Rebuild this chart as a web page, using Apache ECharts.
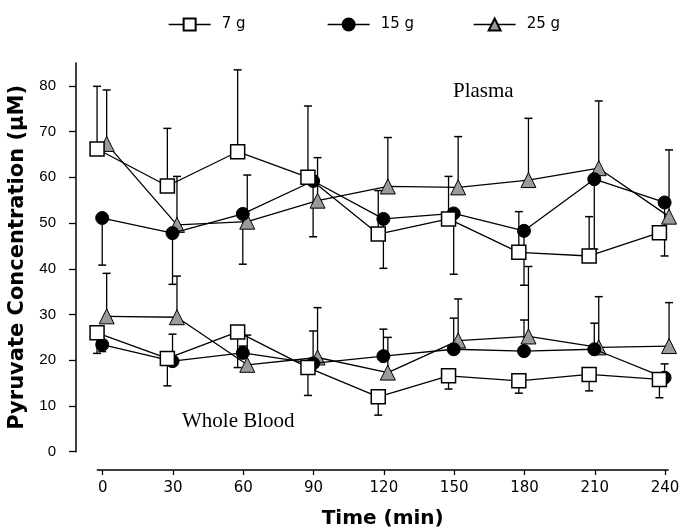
<!DOCTYPE html>
<html>
<head>
<meta charset="utf-8">
<script src="https://cdn.jsdelivr.net/npm/echarts@6/dist/echarts.min.js"></script>
<style>
html,body{margin:0;padding:0;background:#fff;}
#chart{width:680px;height:529px;}
</style>
</head>
<body>
<div id="chart"></div>
<script>
// ---- data ----
const times = [0, 30, 60, 90, 120, 150, 180, 210, 240];
const xTickLabels = [0, 30, 60, 90, 120, 150, 180, 210, 240];
const yTickLabels = [0, 10, 20, 30, 40, 50, 60, 70, 80];
const doses = ['7 g', '15 g', '25 g'];

// Plasma (mean, signed SD: + drawn upward, - drawn downward)
const plasma7 = [66.2, 58.1, 65.6, 60.0, 47.6, 50.9, 43.6, 42.8, 47.9];
const plasma7Err = [13.7, 12.6, 17.9, 15.6, 9.5, 9.3, 8.9, 8.6, 1.5];
const plasma15 = [51.1, 47.8, 52.0, 59.2, 50.9, 52.1, 48.3, 59.6, 54.5];
const plasma15Err = [-10.3, -11.2, -11.0, -12.2, -10.8, -13.3, -11.9, -15.3, -11.7];
const plasma25 = [67.3, 49.6, 50.3, 54.9, 58.0, 57.8, 59.4, 62.0, 51.4];
const plasma25Err = [11.8, 10.6, 10.2, 9.4, 10.7, 11.1, 13.5, 14.7, 14.6];

// Whole blood
const blood7 = [26.0, 20.4, 26.2, 18.4, 12.0, 16.6, 15.5, 16.9, 15.8];
const blood7Err = [-4.5, -6.0, -7.8, -6.1, -4.0, -2.9, -2.7, -3.6, -4.0];
const blood15 = [23.4, 19.8, 21.6, 19.3, 20.9, 22.4, 22.0, 22.4, 16.2];
const blood15Err = [-1.5, 5.9, 1.5, 7.1, 5.9, 6.8, 6.8, 5.7, 3.0];
const blood25 = [29.6, 29.4, 19.0, 20.6, 17.3, 24.3, 25.2, 22.8, 23.1];
const blood25Err = [9.4, 9.0, 6.5, 10.9, 7.7, 9.1, 15.3, 11.1, 9.5];

// ---- styling (horizontal nudge per dose, in minutes, as in the original figure) ----
const nudge = {'7 g': -2.4, '15 g': -0.2, '25 g': 1.7};
const symbolStyle = {
  '7 g': {symbol: 'rect', symbolSize: 14, itemStyle: {color: '#fff', borderColor: '#000', borderWidth: 1.5}},
  '15 g': {symbol: 'circle', symbolSize: 13, itemStyle: {color: '#000', borderColor: '#000', borderWidth: 1}},
  '25 g': {symbol: 'triangle', symbolSize: 15, itemStyle: {color: '#9a9a9a', borderColor: '#000', borderWidth: 1}}
};
const zOrder = {'7 g': 5, '15 g': 4, '25 g': 3};

const groups = [
  {name: '7 g', sets: [[plasma7, plasma7Err], [blood7, blood7Err]]},
  {name: '15 g', sets: [[plasma15, plasma15Err], [blood15, blood15Err]]},
  {name: '25 g', sets: [[plasma25, plasma25Err], [blood25, blood25Err]]}
];

const lineSeries = [];
const errSeries = [];
groups.forEach(g => {
  g.sets.forEach(([vals, errs]) => {
    const dx = nudge[g.name];
    const st = symbolStyle[g.name];
    lineSeries.push({
      type: 'line',
      name: g.name,
      z: zOrder[g.name],
      clip: false,
      symbol: st.symbol,
      symbolSize: st.symbolSize,
      showAllSymbol: true,
      color: st.itemStyle.color,
      itemStyle: st.itemStyle,
      lineStyle: {color: '#000', width: 1.3},
      emphasis: {disabled: true},
      animation: false,
      data: times.map((t, i) => [t + dx, vals[i]])
    });
    errSeries.push({
      type: 'custom',
      name: g.name + ' SD',
      z: 1,
      clip: false,
      silent: true,
      data: times.map((t, i) => [t + dx, vals[i], vals[i] + errs[i]]),
      renderItem: function (params, api) {
        const p0 = api.coord([api.value(0), api.value(1)]);
        const p1 = api.coord([api.value(0), api.value(2)]);
        const half = 4;
        return {
          type: 'group',
          children: [
            {type: 'line', shape: {x1: p0[0], y1: p0[1], x2: p1[0], y2: p1[1]}, style: {stroke: '#000', lineWidth: 1.3}},
            {type: 'line', shape: {x1: p1[0] - half, y1: p1[1], x2: p1[0] + half, y2: p1[1]}, style: {stroke: '#000', lineWidth: 1.5}}
          ]
        };
      }
    });
  });
});

const legendLefts = [163, 322, 468];
const legends = doses.map((d, i) => ({
  data: [d],
  left: legendLefts[i],
  top: 12,
  itemWidth: 42,
  itemHeight: 15,
  selectedMode: false,
  textStyle: {fontFamily: 'DejaVu Sans', fontSize: 15, color: '#000', padding: [0, 0, 0, 6]},
  lineStyle: {color: '#000', width: 1.3}
}));

const chart = echarts.init(document.getElementById('chart'), null, {renderer: 'canvas'});
chart.setOption({
  animation: false,
  backgroundColor: '#fff',
  legend: legends,
  grid: {left: 97.3, right: 11.9, top: 63, bottom: 77.3, containLabel: false, outerBoundsMode: 'none'},
  xAxis: {
    type: 'value',
    min: -2.3,
    max: 241.3,
    offset: 18.3,
    name: 'Time (min)',
    nameLocation: 'middle',
    nameGap: 39,
    nameTextStyle: {fontFamily: 'DejaVu Sans', fontWeight: 'bold', fontSize: 20, color: '#000'},
    axisLine: {show: true, onZero: false, lineStyle: {color: '#000', width: 1.5}},
    axisTick: {show: true, inside: false, length: 5, lineStyle: {color: '#000', width: 1.3}, customValues: xTickLabels},
    axisLabel: {customValues: xTickLabels, margin: 11, fontFamily: 'DejaVu Sans', fontSize: 15, color: '#000'},
    splitLine: {show: false}
  },
  yAxis: {
    type: 'value',
    min: 0,
    max: 85,
    offset: 21.3,
    name: 'Pyruvate Concentration (\u00b5M)',
    nameLocation: 'middle',
    nameGap: 44,
    nameTextStyle: {fontFamily: 'DejaVu Sans', fontWeight: 'bold', fontSize: 21, color: '#000'},
    axisLine: {show: true, onZero: false, lineStyle: {color: '#000', width: 1.5}},
    axisTick: {show: true, inside: false, length: 7, lineStyle: {color: '#000', width: 1.3}, customValues: yTickLabels},
    axisLabel: {customValues: yTickLabels, margin: 20, fontFamily: 'Liberation Sans', fontSize: 15, color: '#000'},
    splitLine: {show: false}
  },
  graphic: [
    {type: 'text', left: 453, top: 81, style: {text: 'Plasma', font: '21px "Liberation Serif"', fill: '#000'}},
    {type: 'text', left: 182, top: 411, style: {text: 'Whole Blood', font: '21px "Liberation Serif"', fill: '#000'}}
  ],
  series: lineSeries.concat(errSeries)
});
</script>
</body>
</html>
